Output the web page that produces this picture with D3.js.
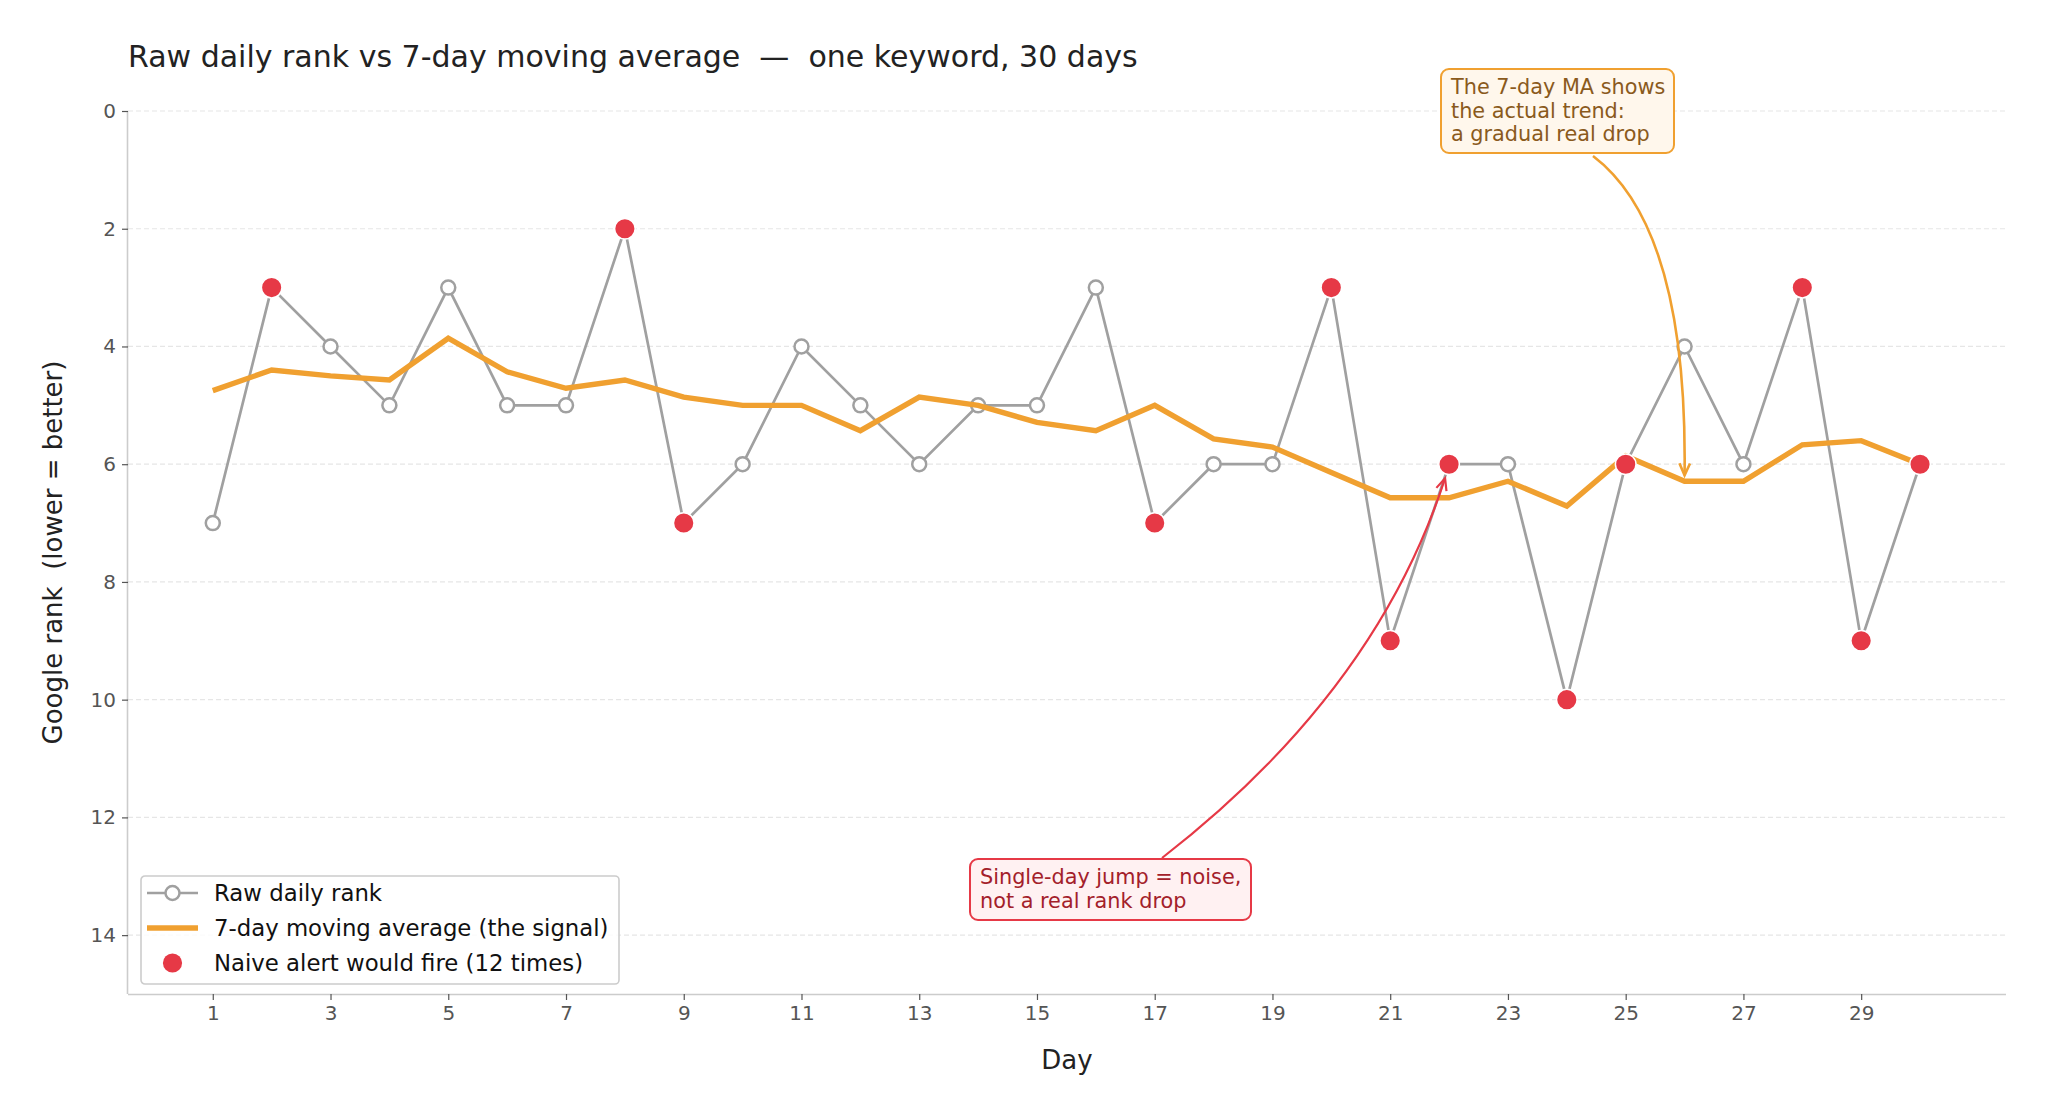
<!DOCTYPE html>
<html>
<head>
<meta charset="utf-8">
<script src="https://cdn.jsdelivr.net/npm/d3@7"></script>
<style>
  body { margin: 0; background: #fff; }
  text { font-family: "DejaVu Sans", sans-serif; white-space: pre; }
</style>
</head>
<body>
<script>
// data
var days = d3.range(1, 31);
var rawRank = [7, 3, 4, 5, 3, 5, 5, 2, 7, 6, 4, 5, 6, 5, 5, 3, 7, 6, 6, 3, 9, 6, 6, 10, 6, 4, 6, 3, 9, 6];
var maRank = [4.75, 4.4, 4.5, 4.57, 3.86, 4.43, 4.71, 4.57, 4.86, 5.0, 5.0, 5.43, 4.86, 5.0, 5.29,
    5.43, 5.0, 5.57, 5.71, 6.14, 6.57, 6.57, 6.29, 6.71, 5.86, 6.29, 6.29, 5.67, 5.6, 6.0];
var alertDays = [2, 8, 9, 17, 20, 21, 22, 24, 25, 28, 29, 30];
var xTicks = [1, 3, 5, 7, 9, 11, 13, 15, 17, 19, 21, 23, 25, 27, 29];
var yTicks = [0, 2, 4, 6, 8, 10, 12, 14];
var legendLabels = ["Raw daily rank", "7-day moving average (the signal)", "Naive alert would fire (12 times)"];

var width = 2048, height = 1117;
var plotL = 128, plotR = 2006, plotT = 111, plotB = 994;

var grey = "#a0a0a0", orange = "#f0a030", red = "#e63946";

var svg = d3.select("body").append("svg")
        .attr("width", width)
        .attr("height", height);

var x = d3.scaleLinear().domain([-0.44, 31.46]).range([plotL, plotR]);
var y = d3.scaleLinear().domain([0, 15]).range([plotT, plotB]);

// grid
svg.append("g").selectAll("line")
        .data(yTicks)
        .enter().append("line")
        .attr("x1", plotL).attr("x2", plotR)
        .attr("y1", function (d) { return y(d); })
        .attr("y2", function (d) { return y(d); })
        .attr("stroke", "#e6e6e6")
        .attr("stroke-width", 1.2)
        .attr("stroke-dasharray", "5,3");

// axes
var xAxis = svg.append("g")
        .attr("transform", "translate(0," + plotB + ")")
        .call(d3.axisBottom(x).tickValues(xTicks).tickSize(6).tickPadding(6));
var yAxis = svg.append("g")
        .attr("transform", "translate(" + plotL + ",0)")
        .call(d3.axisLeft(y).tickValues(yTicks).tickSize(6).tickPadding(6));

[xAxis, yAxis].forEach(function (a) {
    a.select(".domain").attr("stroke", "#cccccc").attr("stroke-width", 1.6);
    a.selectAll(".tick line").attr("stroke", "#555").attr("stroke-width", 1.2);
    a.selectAll(".tick text").attr("fill", "#555").style("font-size", "20px")
            .style("font-family", "DejaVu Sans");
});
// matplotlib-style spines without end caps
xAxis.select(".domain").attr("d", "M" + plotL + ",0.5H" + plotR);
yAxis.select(".domain").attr("d", "M-0.5," + plotT + "V" + plotB);

svg.append("text")
        .attr("x", (plotL + plotR) / 2)
        .attr("y", 1069)
        .attr("text-anchor", "middle")
        .attr("fill", "#222")
        .style("font-size", "26px")
        .text("Day");

svg.append("text")
        .attr("transform", "translate(62," + (plotT + plotB) / 2 + ") rotate(-90)")
        .attr("text-anchor", "middle")
        .attr("fill", "#222")
        .style("font-size", "26px")
        .text("Google rank  (lower = better)");

svg.append("text")
        .attr("x", plotL)
        .attr("y", 67)
        .attr("fill", "#222")
        .style("font-size", "30px")
        .text("Raw daily rank vs 7-day moving average  \u2014  one keyword, 30 days");

// raw line
var rawData = days.map(function (d, i) { return {day: d, v: rawRank[i]}; });
var maData = days.map(function (d, i) { return {day: d, v: maRank[i]}; });

var line = d3.line()
        .x(function (d) { return x(d.day); })
        .y(function (d) { return y(d.v); });

svg.append("path")
        .datum(rawData)
        .attr("d", line)
        .attr("fill", "none")
        .attr("stroke", grey)
        .attr("stroke-width", 2.7);

svg.append("g").selectAll("circle")
        .data(rawData)
        .enter().append("circle")
        .attr("cx", function (d) { return x(d.day); })
        .attr("cy", function (d) { return y(d.v); })
        .attr("r", 7)
        .attr("fill", "#fff")
        .attr("stroke", grey)
        .attr("stroke-width", 2.5);

svg.append("path")
        .datum(maData)
        .attr("d", line)
        .attr("fill", "none")
        .attr("stroke", orange)
        .attr("stroke-width", 5.4)
        .attr("stroke-linejoin", "miter");

svg.append("g").selectAll("circle")
        .data(rawData.filter(function (d) { return alertDays.indexOf(d.day) >= 0; }))
        .enter().append("circle")
        .attr("cx", function (d) { return x(d.day); })
        .attr("cy", function (d) { return y(d.v); })
        .attr("r", 10.3)
        .attr("fill", red)
        .attr("stroke", "#fff")
        .attr("stroke-width", 1.5);

// annotations
function arrowHead(g, tip, from, color, w) {
    var ang = Math.atan2(tip[1] - from[1], tip[0] - from[0]);
    var len = 13, spread = 0.42;
    var p1 = [tip[0] - len * Math.cos(ang - spread), tip[1] - len * Math.sin(ang - spread)];
    var p2 = [tip[0] - len * Math.cos(ang + spread), tip[1] - len * Math.sin(ang + spread)];
    g.append("path")
            .attr("d", "M" + p1 + "L" + tip + "L" + p2)
            .attr("fill", "none")
            .attr("stroke", color)
            .attr("stroke-width", w);
}

function annotate(o) {
    var g = svg.append("g");
    var tip = [x(o.day) + o.dx, y(o.v) + o.dy];
    var p = d3.path();
    p.moveTo(o.start[0], o.start[1]);
    p.quadraticCurveTo(o.ctrl[0], o.ctrl[1], tip[0], tip[1]);
    g.append("path").attr("d", p.toString())
            .attr("fill", "none").attr("stroke", o.color).attr("stroke-width", o.w);
    arrowHead(g, tip, o.ctrl, o.color, o.w);
    g.append("rect")
            .attr("x", o.box[0]).attr("y", o.box[1])
            .attr("width", o.box[2]).attr("height", o.box[3])
            .attr("rx", 8)
            .attr("fill", o.fill).attr("stroke", o.color).attr("stroke-width", 2);
    g.selectAll("text.ann")
            .data(o.lines)
            .enter().append("text")
            .attr("x", o.box[0] + 10)
            .attr("y", function (d, i) { return o.box[1] + 25 + i * 23.5; })
            .attr("fill", o.textColor)
            .style("font-size", "20.8px")
            .text(function (d) { return d; });
}

annotate({
    day: 26, v: maRank[25], dx: 0, dy: -6,
    start: [1593, 156], ctrl: [1688, 228],
    color: orange, w: 2.6, fill: "#fff7ec", textColor: "#8a5a1c",
    box: [1441, 69, 233, 84],
    lines: ["The 7-day MA shows", "the actual trend:", "a gradual real drop"]
});

annotate({
    day: 22, v: rawRank[21], dx: -4, dy: 14,
    start: [1162, 858], ctrl: [1376, 692],
    color: red, w: 2.2, fill: "#fff1f2", textColor: "#a3202a",
    box: [970, 859, 281, 61],
    lines: ["Single-day jump = noise,", "not a real rank drop"]
});

// legend
var leg = svg.append("g").attr("transform", "translate(141,876)");
leg.append("rect")
        .attr("width", 478).attr("height", 108).attr("rx", 4)
        .attr("fill", "#fff").attr("fill-opacity", 0.85)
        .attr("stroke", "#cccccc").attr("stroke-width", 1.6);

var rows = leg.selectAll("g.row")
        .data(legendLabels)
        .enter().append("g")
        .attr("transform", function (d, i) { return "translate(0," + (17 + i * 35) + ")"; });

rows.append("text")
        .attr("x", 73)
        .attr("dy", "0.36em")
        .attr("fill", "#111")
        .style("font-size", "22.8px")
        .text(function (d) { return d; });

var r0 = leg.select("g");
r0.append("line").attr("x1", 6).attr("x2", 57)
        .attr("stroke", grey).attr("stroke-width", 2.7);
r0.append("circle").attr("cx", 31.5).attr("r", 7)
        .attr("fill", "#fff").attr("stroke", grey).attr("stroke-width", 2.5);

d3.select(rows.nodes()[1]).append("line").attr("x1", 6).attr("x2", 57)
        .attr("stroke", orange).attr("stroke-width", 5.4);

d3.select(rows.nodes()[2]).append("circle").attr("cx", 31.5).attr("r", 9.6)
        .attr("fill", red);
</script>
</body>
</html>
